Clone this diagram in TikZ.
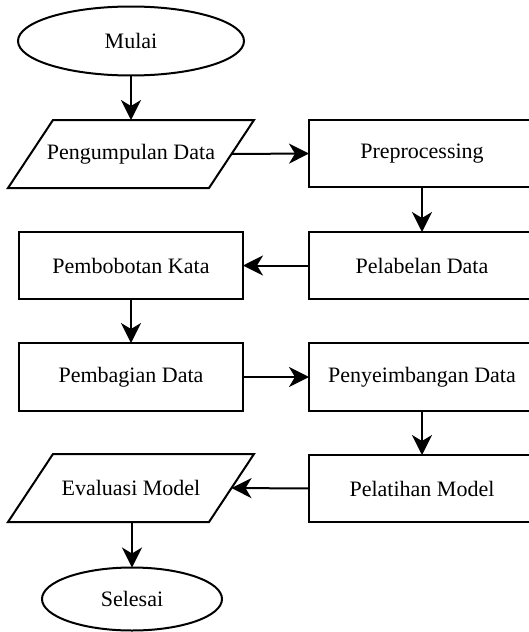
\documentclass[tikz,border=0pt]{standalone}
\usepackage{fontspec}
\setmainfont{Liberation Serif}
\usetikzlibrary{shapes.geometric,arrows.meta,calc}
\begin{document}
\begin{tikzpicture}[x=1pt,y=-1pt,
  every node/.style={font=\fontsize{22}{26}\selectfont, inner sep=0pt, outer sep=0pt},
  boxnode/.style={draw, line width=2pt, rectangle, minimum width=226pt, minimum height=67pt},
  ovalnode/.style={draw, line width=2pt, ellipse},
  ionode/.style={rectangle, minimum width=201pt, minimum height=68pt},
  ioshape/.style={line width=2pt, line join=miter},
  flow/.style={line width=2pt, -{Stealth[length=20pt,width=20pt,inset=6pt]}}]
\useasboundingbox (0,0) rectangle (529,632);
\node[ovalnode, minimum width=226pt, minimum height=69pt] (mulai) at (131,41) {Mulai};
\node[ionode] (kumpul) at (131,154) {Pengumpulan Data};
\draw[ioshape] ($(kumpul.north west)+(22.5,0)$) -- ($(kumpul.north east)+(22.5,0)$) -- ($(kumpul.south east)+(-22.5,0)$) -- ($(kumpul.south west)+(-22.5,0)$) -- cycle;
\node[boxnode] (pre) at (422,153.5) {Preprocessing};
\node[boxnode] (label) at (422,265.5) {Pelabelan Data};
\node[boxnode, minimum width=224pt] (bobot) at (131,265.5) {Pembobotan Kata};
\node[boxnode, minimum width=224pt, minimum height=68pt] (bagi) at (131,377) {Pembagian Data};
\node[boxnode, minimum height=68pt] (imbang) at (422,377) {Penyeimbangan Data};
\node[boxnode] (latih) at (422,488.5) {Pelatihan Model};
\node[ionode] (eval) at (131,488) {Evaluasi Model};
\draw[ioshape] ($(eval.north west)+(22.5,0)$) -- ($(eval.north east)+(22.5,0)$) -- ($(eval.south east)+(-22.5,0)$) -- ($(eval.south west)+(-22.5,0)$) -- cycle;
\node[ovalnode, minimum width=180pt, minimum height=63pt] (selesai) at (132,599) {Selesai};
\draw[flow] (mulai.south) -- (mulai.south |- kumpul.north);
\draw[flow] (kumpul.east) -- (pre.west);
\draw[flow] (pre.south) -- (label.north);
\draw[flow] (label.west) -- (bobot.east);
\draw[flow] (bobot.south) -- (bagi.north);
\draw[flow] (bagi.east) -- (imbang.west);
\draw[flow] (imbang.south) -- (latih.north);
\draw[flow] (latih.west) -- (eval.east);
\draw[flow] (eval.south -| selesai.north) -- (selesai.north);
\end{tikzpicture}
\end{document}
